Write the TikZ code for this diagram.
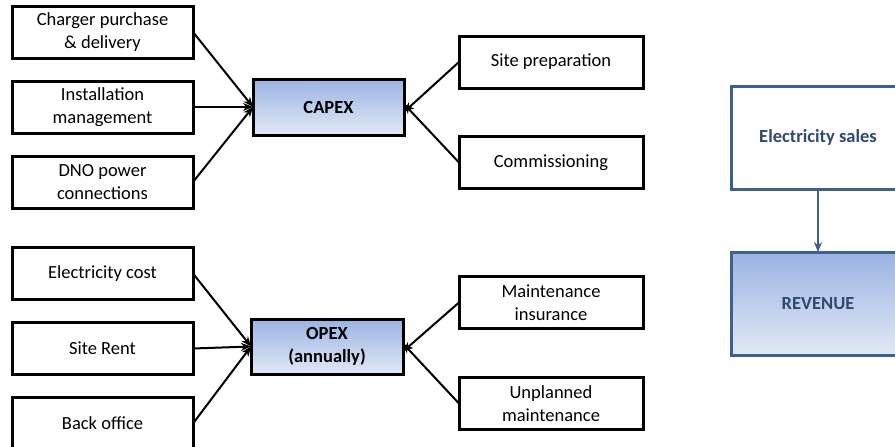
\documentclass[tikz,border=0pt]{standalone}
\usepackage{fontspec}
\setmainfont{Carlito}
\usetikzlibrary{arrows.meta}
\definecolor{bluedge}{HTML}{3F5F8E}
\definecolor{bluetext}{HTML}{2F4A72}
\definecolor{gradtop}{HTML}{9AB3E2}
\definecolor{gradbot}{HTML}{E2E9F6}
\tikzset{
  itembox/.style={draw=black, line width=3pt, fill=white, minimum width=181pt, minimum height=52pt, inner sep=0pt, outer sep=0pt, align=center, font=\fontsize{18.5}{23}\selectfont},
  ritembox/.style={itembox, minimum width=184pt},
  sumbox/.style={draw=black, line width=3pt, top color=gradtop, bottom color=gradbot, minimum width=151pt, minimum height=56pt, inner sep=0pt, outer sep=0pt, align=center, font=\fontsize{18.5}{23}\selectfont\bfseries},
  revbox/.style={draw=bluedge, line width=3pt, minimum width=174pt, minimum height=103pt, inner sep=0pt, outer sep=0pt, align=center, text=bluetext, font=\fontsize{18.5}{23}\selectfont\bfseries},
  conn/.style={draw=black, line width=2pt, -{Stealth[length=10pt,width=8pt]}},
  bconn/.style={draw=bluedge, line width=2pt, -{Stealth[length=10pt,width=8pt]}}
}
\begin{document}
\begin{tikzpicture}[x=1pt,y=-1pt]
\useasboundingbox (0,0) rectangle (895,447);
% CAPEX group
\node[itembox] (b1) at (102.5,32) {Charger purchase\\\& delivery};
\node[itembox] (b2) at (102.5,107) {Installation\\management};
\node[itembox] (b3) at (102.5,182) {DNO power\\connections};
\node[sumbox] (capex) at (328.5,107) {CAPEX};
\node[ritembox] (sp) at (551,62) {Site preparation};
\node[ritembox] (cm) at (551,162.5) {Commissioning};
\draw[conn] (b1.east) -- (capex.west);
\draw[conn] (b2.east) -- (capex.west);
\draw[conn] (b3.east) -- (capex.west);
\draw[conn] (sp.west) -- ([yshift=-5pt]capex.east);
\draw[conn] (cm.west) -- ([yshift=3pt]capex.east);
% OPEX group
\node[itembox] (o1) at (102.5,273.5) {Electricity cost};
\node[itembox] (o2) at (102.5,348.5) {Site Rent};
\node[itembox] (o3) at (102.5,423.5) {Back office};
\node[sumbox, minimum width=152pt, minimum height=55pt] (opex) at (327,346.5) {OPEX\\(annually)};
\node[ritembox] (mi) at (551,302.5) {Maintenance\\insurance};
\node[ritembox] (um) at (551,403.5) {Unplanned\\maintenance};
\draw[conn] (o1.east) -- (opex.west);
\draw[conn] (o2.east) -- (opex.west);
\draw[conn] (o3.east) -- (opex.west);
\draw[conn] (mi.west) -- ([yshift=-5pt]opex.east);
\draw[conn] (um.west) -- ([yshift=3pt]opex.east);
% Revenue
\node[revbox, fill=white] (es) at (818,137.5) {Electricity sales};
\node[revbox, top color=gradtop, bottom color=gradbot] (rev) at (818,303.5) {REVENUE};
\draw[bconn] (es.south) -- (rev.north);
\end{tikzpicture}
\end{document}
